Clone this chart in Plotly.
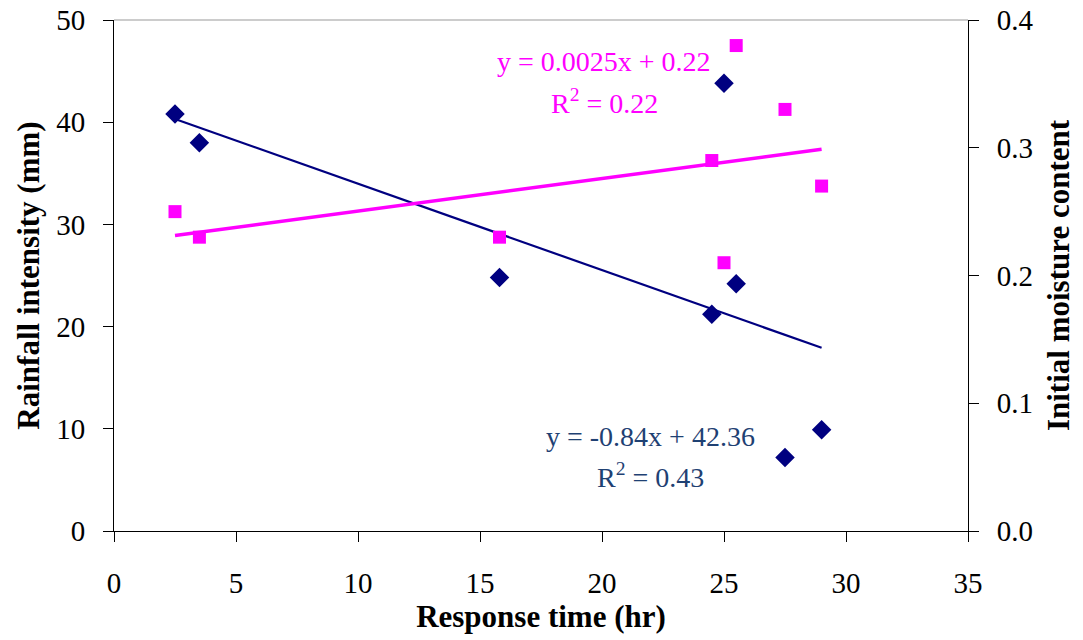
import numpy as np
import plotly.graph_objects as go

# Data
response_time = [2.5, 3.5, 15.8, 24.5, 25.0, 25.5, 27.5, 29.0]
rainfall = [40.8, 38.0, 24.8, 21.2, 43.8, 24.2, 7.2, 9.9]
moisture = [0.25, 0.23, 0.23, 0.29, 0.21, 0.38, 0.33, 0.27]

rain_eq = "y = -0.84x + 42.36"
rain_r2 = "R<sup>2</sup> = 0.43"
moist_eq = "y = 0.0025x + 0.22"
moist_r2 = "R<sup>2</sup> = 0.22"

x_arr = np.array(response_time)
xl = np.array([x_arr.min(), x_arr.max()])
rb = np.polyfit(x_arr, rainfall, 1)
mb = np.polyfit(x_arr, moisture, 1)

NAVY = "#000080"
MAG = "#FF00FF"
EQBLUE = "#1F4173"
FONT = "Liberation Serif"
TICK = 29
TITLE = 31
ANN = 28

fig = go.Figure()
fig.add_trace(go.Scatter(x=response_time, y=rainfall, mode="markers",
                         marker=dict(symbol="diamond", size=15, color=NAVY),
                         showlegend=False))
fig.add_trace(go.Scatter(x=xl, y=np.polyval(rb, xl), mode="lines",
                         line=dict(color=NAVY, width=2.2), showlegend=False))
fig.add_trace(go.Scatter(x=response_time, y=moisture, mode="markers", yaxis="y2",
                         marker=dict(symbol="square", size=13, color=MAG),
                         showlegend=False))
fig.add_trace(go.Scatter(x=xl, y=np.polyval(mb, xl), mode="lines", yaxis="y2",
                         line=dict(color=MAG, width=3.5), showlegend=False))

axis_common = dict(showgrid=False, zeroline=False, showline=True, linecolor="black",
                   linewidth=1, ticks="outside", ticklen=10, tickcolor="black",
                   automargin=False, ticklabeloverflow="allow",
                   tickfont=dict(family=FONT, size=TICK, color="black"))

fig.update_layout(
    width=1083, height=640,
    margin=dict(l=106, r=123, t=12, b=117),
    paper_bgcolor="white", plot_bgcolor="white",
    font=dict(family=FONT, color="black"),
    xaxis=dict(range=[0, 35], dtick=5, tick0=0, ticklabelstandoff=16,
               title=dict(text="<b>Response time (hr)</b>", font=dict(family=FONT, size=TITLE),
                          standoff=6),
               **axis_common),
    yaxis=dict(range=[0, 50], dtick=10, tick0=0, ticklabelstandoff=12,
               title=dict(text="<b>Rainfall intensity (mm)</b>", font=dict(family=FONT, size=TITLE),
                          standoff=7),
               **axis_common),
    yaxis2=dict(range=[0, 0.4], dtick=0.1, tick0=0, tickformat=".1f", overlaying="y",
                side="right", ticklabelstandoff=12,
                title=dict(text="<b>Initial moisture content</b>", font=dict(family=FONT, size=TITLE),
                           standoff=14),
                **axis_common),
    shapes=[dict(type="line", xref="paper", yref="paper", x0=0, x1=1, y0=1, y1=1,
                 line=dict(color="#999999", width=1))],
    annotations=[
        dict(x=20.1, y=0.3675, xref="x", yref="y2", text=moist_eq, showarrow=False,
             font=dict(family=FONT, size=ANN, color=MAG)),
        dict(x=20.1, y=0.336, xref="x", yref="y2", text=moist_r2, showarrow=False,
             font=dict(family=FONT, size=ANN, color=MAG)),
        dict(x=22.0, y=9.2, xref="x", yref="y", text=rain_eq, showarrow=False,
             font=dict(family=FONT, size=ANN, color=EQBLUE)),
        dict(x=22.0, y=5.4, xref="x", yref="y", text=rain_r2, showarrow=False,
             font=dict(family=FONT, size=ANN, color=EQBLUE)),
    ],
)

fig.write_html("out.html")
